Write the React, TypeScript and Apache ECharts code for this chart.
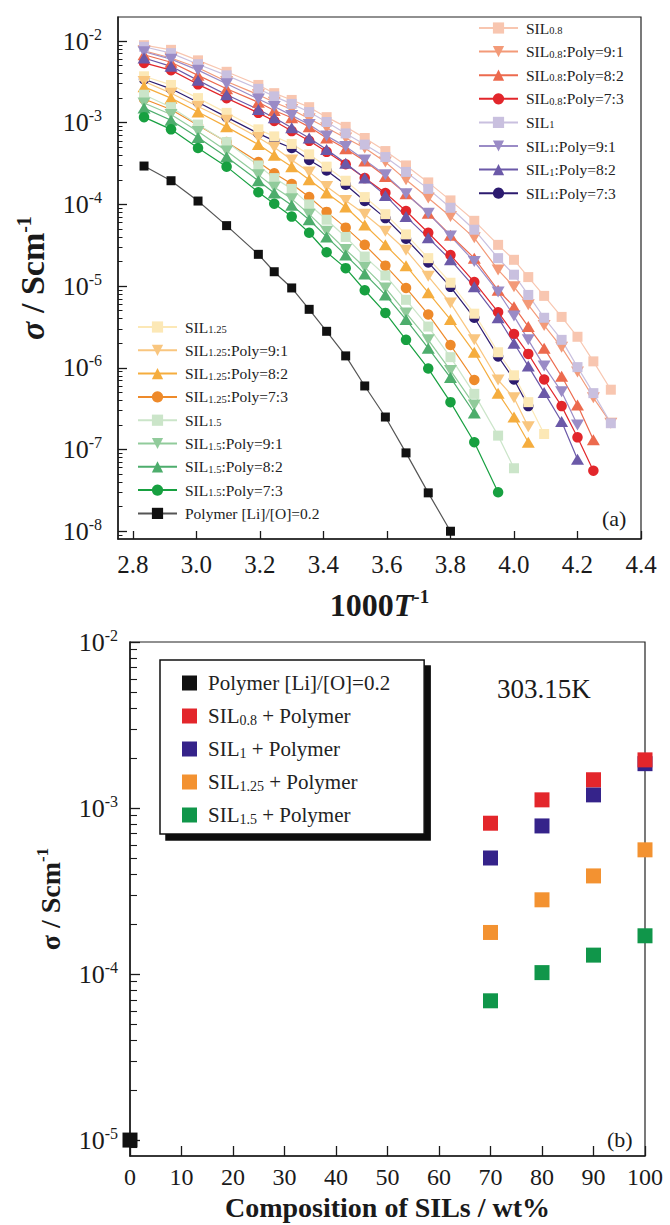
import React, { useEffect, useRef } from "react";
import * as echarts from "echarts";

const SERIF = "'Liberation Serif', 'Times New Roman', Times, serif";

// ---------- (a) conductivity vs 1000/T ----------
const INV_T = [2.835, 2.92, 3.005, 3.095, 3.195, 3.245, 3.3, 3.355, 3.41, 3.47, 3.53, 3.595, 3.66, 3.73, 3.8, 3.875, 3.95, 4.0, 4.045, 4.095, 4.15, 4.2, 4.25, 4.305];

const SIL08_NEAT = [8.9e-3, 7.8e-3, 5.8e-3, 4.2e-3, 2.9e-3, 2.3e-3, 1.9e-3, 1.55e-3, 1.17e-3, 8.9e-4, 6.5e-4, 4.5e-4, 3.0e-4, 1.86e-4, 1.12e-4, 6.3e-5, 3.2e-5, 2.1e-5, 1.29e-5, 7.6e-6, 4.2e-6, 2.4e-6, 1.2e-6, 5.4e-7];
const SIL08_91 = [7.6e-3, 6.2e-3, 4.7e-3, 3.2e-3, 2.2e-3, 1.78e-3, 1.45e-3, 1.12e-3, 8.7e-4, 6.5e-4, 4.9e-4, 3.3e-4, 2.0e-4, 1.2e-4, 7.1e-5, 3.9e-5, 1.58e-5, 9.8e-6, 5.9e-6, 3.3e-6, 1.78e-6, 8.9e-7, 4.3e-7, 2.1e-7];
const SIL08_82 = [6.8e-3, 5.5e-3, 3.8e-3, 2.6e-3, 1.78e-3, 1.41e-3, 1.15e-3, 8.9e-4, 6.5e-4, 4.8e-4, 3.4e-4, 2.2e-4, 1.35e-4, 7.8e-5, 4.2e-5, 2.2e-5, 8.9e-6, 5.6e-6, 3.2e-6, 1.74e-6, 7.9e-7, 3.5e-7, 1.32e-7];
const SIL08_73 = [5.4e-3, 4.4e-3, 2.95e-3, 2.0e-3, 1.32e-3, 1.05e-3, 7.9e-4, 6.0e-4, 4.4e-4, 3.1e-4, 2.1e-4, 1.38e-4, 8.3e-5, 4.5e-5, 2.4e-5, 1.12e-5, 4.8e-6, 2.6e-6, 1.48e-6, 7.2e-7, 3.4e-7, 1.41e-7, 5.5e-8];
const SIL1_NEAT = [8.5e-3, 7.1e-3, 5.2e-3, 3.8e-3, 2.6e-3, 2.1e-3, 1.7e-3, 1.35e-3, 1.02e-3, 7.4e-4, 5.4e-4, 3.8e-4, 2.5e-4, 1.55e-4, 9.1e-5, 4.9e-5, 2.2e-5, 1.38e-5, 7.8e-6, 4.1e-6, 2.2e-6, 1.02e-6, 4.9e-7, 2.1e-7];
const SIL1_91 = [7.4e-3, 6.0e-3, 4.4e-3, 3.0e-3, 1.95e-3, 1.58e-3, 1.23e-3, 9.5e-4, 6.9e-4, 5.1e-4, 3.5e-4, 2.3e-4, 1.35e-4, 7.8e-5, 4.1e-5, 2.0e-5, 8.5e-6, 4.3e-6, 2.2e-6, 1.05e-6, 5.1e-7, 2.0e-7];
const SIL1_82 = [6.2e-3, 4.9e-3, 3.3e-3, 2.2e-3, 1.45e-3, 1.15e-3, 8.7e-4, 6.5e-4, 4.7e-4, 3.2e-4, 2.1e-4, 1.29e-4, 7.1e-5, 3.9e-5, 2.1e-5, 9.8e-6, 4.1e-6, 2.0e-6, 1.05e-6, 5.0e-7, 2.2e-7, 7.6e-8];
const SIL1_73 = [3.4e-3, 2.6e-3, 1.78e-3, 1.17e-3, 7.4e-4, 6.0e-4, 4.9e-4, 3.5e-4, 2.6e-4, 1.74e-4, 1.1e-4, 6.8e-5, 3.8e-5, 1.95e-5, 9.8e-6, 4.1e-6, 1.38e-6, 7.2e-7, 3.4e-7];
const SIL125_NEAT = [3.7e-3, 2.9e-3, 2.0e-3, 1.32e-3, 8.3e-4, 6.8e-4, 5.5e-4, 4.1e-4, 2.9e-4, 1.95e-4, 1.23e-4, 7.6e-5, 4.3e-5, 2.2e-5, 1.1e-5, 4.6e-6, 1.55e-6, 8.1e-7, 3.8e-7, 1.55e-7];
const SIL125_91 = [3.2e-3, 2.3e-3, 1.58e-3, 1.07e-3, 6.6e-4, 5.0e-4, 3.5e-4, 2.5e-4, 1.66e-4, 1.12e-4, 7.6e-5, 4.7e-5, 2.75e-5, 1.32e-5, 6.2e-6, 2.2e-6, 7.1e-7, 4.3e-7, 1.9e-7];
const SIL125_82 = [2.75e-3, 2.0e-3, 1.35e-3, 8.9e-4, 5.4e-4, 4.0e-4, 2.9e-4, 2.0e-4, 1.38e-4, 9.3e-5, 5.6e-5, 3.2e-5, 1.78e-5, 8.3e-6, 3.9e-6, 1.55e-6, 4.9e-7, 2.5e-7, 1.23e-7];
const SIL125_73 = [1.95e-3, 1.45e-3, 9.3e-4, 5.8e-4, 3.3e-4, 2.4e-4, 1.78e-4, 1.23e-4, 8.1e-5, 5.2e-5, 3.2e-5, 1.78e-5, 9.5e-6, 4.5e-6, 1.9e-6, 7.1e-7];
const SIL15_NEAT = [2.2e-3, 1.55e-3, 9.5e-4, 5.8e-4, 3.0e-4, 2.1e-4, 1.55e-4, 1.0e-4, 6.5e-5, 4.0e-5, 2.3e-5, 1.35e-5, 6.8e-6, 3.2e-6, 1.35e-6, 4.8e-7, 1.48e-7, 5.9e-8];
const SIL15_91 = [1.74e-3, 1.26e-3, 7.8e-4, 4.5e-4, 2.3e-4, 1.62e-4, 1.17e-4, 7.6e-5, 4.7e-5, 2.8e-5, 1.7e-5, 9.5e-6, 4.7e-6, 2.2e-6, 9.3e-7, 3.5e-7];
const SIL15_82 = [1.51e-3, 1.07e-3, 6.6e-4, 3.8e-4, 1.95e-4, 1.38e-4, 9.8e-5, 6.5e-5, 4.0e-5, 2.4e-5, 1.41e-5, 7.8e-6, 3.9e-6, 1.74e-6, 7.6e-7, 2.8e-7];
const SIL15_73 = [1.17e-3, 8.3e-4, 4.9e-4, 2.9e-4, 1.41e-4, 1.02e-4, 7.1e-5, 4.5e-5, 2.6e-5, 1.66e-5, 8.9e-6, 4.7e-6, 2.2e-6, 9.8e-7, 3.8e-7, 1.23e-7, 3.0e-8];
const POLYMER = [2.95e-4, 1.95e-4, 1.1e-4, 5.5e-5, 2.45e-5, 1.5e-5, 9.5e-6, 5.2e-6, 2.8e-6, 1.4e-6, 6.0e-7, 2.5e-7, 9.1e-8, 2.95e-8, 1.0e-8];

const NAMES_A = [
  "SIL0.8", "SIL0.8:Poly=9:1", "SIL0.8:Poly=8:2", "SIL0.8:Poly=7:3",
  "SIL1", "SIL1:Poly=9:1", "SIL1:Poly=8:2", "SIL1:Poly=7:3",
  "SIL1.25", "SIL1.25:Poly=9:1", "SIL1.25:Poly=8:2", "SIL1.25:Poly=7:3",
  "SIL1.5", "SIL1.5:Poly=9:1", "SIL1.5:Poly=8:2", "SIL1.5:Poly=7:3",
  "Polymer [Li]/[O]=0.2",
];
const VALUES_A = [
  SIL08_NEAT, SIL08_91, SIL08_82, SIL08_73,
  SIL1_NEAT, SIL1_91, SIL1_82, SIL1_73,
  SIL125_NEAT, SIL125_91, SIL125_82, SIL125_73,
  SIL15_NEAT, SIL15_91, SIL15_82, SIL15_73,
  POLYMER,
];
const X_TICKS_A = [2.8, 3.0, 3.2, 3.4, 3.6, 3.8, 4.0, 4.2, 4.4];
const DECADES_A = [-8, -7, -6, -5, -4, -3, -2];

// ---------- (b) conductivity vs composition at 303.15 K ----------
const COMPOSITION = [70, 80, 90, 100];
const POLY_COMPOSITION = [0];
const B_POLYMER = [1.0e-5];
const B_SIL08 = [8.1e-4, 1.12e-3, 1.48e-3, 1.95e-3];
const B_SIL1 = [5.0e-4, 7.8e-4, 1.2e-3, 1.85e-3];
const B_SIL125 = [1.78e-4, 2.8e-4, 3.9e-4, 5.6e-4];
const B_SIL15 = [6.9e-5, 1.02e-4, 1.3e-4, 1.7e-4];
const NAMES_B = ["Polymer [Li]/[O]=0.2 ", "SIL0.8 + Polymer", "SIL1 + Polymer", "SIL1.25 + Polymer", "SIL1.5 + Polymer"];
const X_TICKS_B = [0, 10, 20, 30, 40, 50, 60, 70, 80, 90, 100];
const DECADES_B = [-5, -4, -3, -2];
const MINOR_STEPS = [2, 3, 4, 5, 6, 7, 8, 9];

// ---------- styles (kept apart from data) ----------
const COLORS_A = [
  "#F8C6B0", "#F39A78", "#EC6A4E", "#E2262B",
  "#C9C0DF", "#9A8BC6", "#6B59A8", "#2C1B6F",
  "#FCE8B6", "#F9C67F", "#F5AD3E", "#EE8A2A",
  "#CBE5C9", "#91CB9B", "#4DAD6C", "#17A040",
  "#111111",
];
const MARKERS_A = ["sq", "dn", "up", "ci", "sq", "dn", "up", "ci", "sq", "dn", "up", "ci", "sq", "dn", "up", "ci", "sq"];
const COLORS_B = ["#111111", "#E3262B", "#35238A", "#F39231", "#10964A"];

const A_X_MIN = 2.753, A_X_MAX = 4.4, A_Y_MIN = -8.095, A_Y_MAX = -1.706;
const B_Y_MIN = -5.096, B_Y_MAX = -2;

function minorTicks(lo: number, hi: number) {
  const out: number[] = [];
  for (let n = Math.floor(lo) - 1; n <= Math.ceil(hi); n++) {
    for (const k of MINOR_STEPS) {
      const v = n + Math.log10(k);
      if (v > lo && v < hi) out.push(v);
    }
  }
  return out;
}

const legendFmt = (name: string) => name.trim().replace(/^SIL([\d.]+)/, "SIL{s|$1}");

function buildOption() {
  const ink = "#1a1a1a";
  const supLabelRich = {
    b: { fontFamily: SERIF, fontSize: 26, color: ink, lineHeight: 30 },
    s: { fontFamily: SERIF, fontSize: 16, color: ink, lineHeight: 16, verticalAlign: "top" },
  };
  const labelFmt = (v: number) => `{b|10}{s|${Math.round(v)}}`;

  const symbolOf = (m: string) =>
    m === "sq" ? { symbol: "rect", symbolSize: 10, symbolRotate: 0 }
      : m === "ci" ? { symbol: "circle", symbolSize: 10.5, symbolRotate: 0 }
      : m === "up" ? { symbol: "triangle", symbolSize: [13, 11], symbolRotate: 0 }
      : { symbol: "triangle", symbolSize: [13, 11], symbolRotate: 180 };

  const seriesA = NAMES_A.map((name, i) => {
    const vals = VALUES_A[i];
    const s = symbolOf(MARKERS_A[i]);
    const isPoly = i === NAMES_A.length - 1;
    return {
      type: "line",
      name,
      xAxisIndex: 0,
      yAxisIndex: 0,
      data: vals.map((v, j) => [INV_T[j], Math.log10(v)]),
      symbol: s.symbol,
      symbolSize: isPoly ? 9 : s.symbolSize,
      symbolRotate: s.symbolRotate,
      showSymbol: true,
      clip: false,
      lineStyle: { color: isPoly ? "#555" : COLORS_A[i], width: 1.2 },
      itemStyle: { color: COLORS_A[i], opacity: 1 },
      z: 2,
    };
  });

  const bData = [
    POLY_COMPOSITION.map((c, j) => [c, Math.log10(B_POLYMER[j])]),
    COMPOSITION.map((c, j) => [c, Math.log10(B_SIL08[j])]),
    COMPOSITION.map((c, j) => [c, Math.log10(B_SIL1[j])]),
    COMPOSITION.map((c, j) => [c, Math.log10(B_SIL125[j])]),
    COMPOSITION.map((c, j) => [c, Math.log10(B_SIL15[j])]),
  ];
  const seriesB = NAMES_B.map((name, i) => ({
    type: "scatter",
    name,
    xAxisIndex: 1,
    yAxisIndex: 2,
    data: bData[i],
    symbol: "rect",
    symbolSize: 15,
    clip: false,
    itemStyle: { color: COLORS_B[i], opacity: 1 },
    z: i === 1 ? 4 : 3,
  }));

  const legendTextA = {
    fontFamily: SERIF,
    fontSize: 15.5,
    color: "#222",
    lineHeight: 16,
    padding: [0, 0, 0, 3],
    rich: { s: { fontFamily: SERIF, fontSize: 10.5, color: "#222", lineHeight: 12, verticalAlign: "bottom" } },
  };

  const axisNameRich = (size: number) => ({
    fontFamily: SERIF,
    fontSize: size,
    fontWeight: "bold",
    color: ink,
    lineHeight: size + 4,
    rich: {
      i: { fontFamily: SERIF, fontSize: size, fontWeight: "bold", fontStyle: "italic", color: ink, lineHeight: size + 4 },
      s: { fontFamily: SERIF, fontSize: Math.round(size * 0.6), fontWeight: "bold", color: ink, lineHeight: Math.round(size * 0.6), verticalAlign: "top" },
    },
  });

  return {
    animation: false,
    backgroundColor: "#ffffff",
    textStyle: { fontFamily: SERIF },
    grid: [
      { left: 118, right: 29, top: 17, bottom: 686, show: true, borderColor: "#222", borderWidth: 1.2, backgroundColor: "transparent", containLabel: false, outerBoundsMode: "none" },
      { left: 130, right: 25, top: 642, bottom: 69, show: true, borderColor: "#222", borderWidth: 1.2, backgroundColor: "transparent", containLabel: false, outerBoundsMode: "none" },
    ],
    xAxis: [
      {
        type: "value", gridIndex: 0, min: A_X_MIN, max: A_X_MAX,
        splitLine: { show: false },
        axisLine: { show: true, lineStyle: { color: ink, width: 1.5 } },
        axisTick: { show: true, inside: true, length: 8, customValues: X_TICKS_A, lineStyle: { color: ink, width: 1.3 } },
        axisLabel: { customValues: X_TICKS_A, formatter: (v: number) => v.toFixed(1), fontFamily: SERIF, fontSize: 25, color: ink, margin: 13 },
        name: "1000{i|T}{s|-1}", nameLocation: "middle", nameGap: 48,
        nameTextStyle: axisNameRich(32),
      },
      {
        type: "value", gridIndex: 1, min: 0, max: 100, interval: 10,
        splitLine: { show: false },
        axisLine: { show: true, lineStyle: { color: ink, width: 1.5 } },
        axisTick: { show: true, inside: true, length: 10, customValues: X_TICKS_B, lineStyle: { color: ink, width: 1.3 } },
        axisLabel: { customValues: X_TICKS_B, fontFamily: SERIF, fontSize: 24, color: ink, margin: 9 },
        name: "Composition of SILs / wt%", nameLocation: "middle", nameGap: 37,
        nameTextStyle: { fontFamily: SERIF, fontSize: 28, fontWeight: "bold", color: ink },
      },
    ],
    yAxis: [
      {
        type: "value", gridIndex: 0, position: "left", offset: 0, min: A_Y_MIN, max: A_Y_MAX,
        splitLine: { show: false },
        axisLine: { show: true, lineStyle: { color: ink, width: 1.5 } },
        axisTick: { show: true, inside: true, length: 9, customValues: DECADES_A, lineStyle: { color: ink, width: 1.3 } },
        axisLabel: { customValues: DECADES_A, formatter: labelFmt, fontFamily: SERIF, fontSize: 26, color: ink, margin: 16, rich: supLabelRich },
        name: "{i|σ} / Scm{s|-1}", nameLocation: "middle", nameGap: 64,
        nameTextStyle: axisNameRich(34),
      },
      {
        type: "value", gridIndex: 0, position: "left", offset: 0, min: A_Y_MIN, max: A_Y_MAX,
        splitLine: { show: false },
        axisLine: { show: false },
        axisTick: { show: true, inside: true, length: 4.5, customValues: minorTicks(A_Y_MIN, A_Y_MAX), lineStyle: { color: ink, width: 1 } },
        axisLabel: { show: false },
      },
      {
        type: "value", gridIndex: 1, position: "left", offset: 0, min: B_Y_MIN, max: B_Y_MAX,
        splitLine: { show: false },
        axisLine: { show: true, lineStyle: { color: ink, width: 1.5 } },
        axisTick: { show: true, inside: true, length: 10, customValues: DECADES_B, lineStyle: { color: ink, width: 1.3 } },
        axisLabel: { customValues: DECADES_B, formatter: labelFmt, fontFamily: SERIF, fontSize: 26, color: ink, margin: 12, rich: supLabelRich },
        name: "σ / Scm{s|-1}", nameLocation: "middle", nameGap: 64,
        nameTextStyle: axisNameRich(28),
      },
      {
        type: "value", gridIndex: 1, position: "left", offset: 0, min: B_Y_MIN, max: B_Y_MAX,
        splitLine: { show: false },
        axisLine: { show: false },
        axisTick: { show: true, inside: true, length: 7, customValues: minorTicks(B_Y_MIN, B_Y_MAX), lineStyle: { color: ink, width: 1.1 } },
        axisLabel: { show: false },
      },
    ],
    legend: [
      {
        data: NAMES_A.slice(0, 8), orient: "vertical", left: 478, top: 20,
        itemWidth: 39, itemHeight: 14, itemGap: 7.6, selectedMode: false, padding: 0,
        formatter: legendFmt, textStyle: legendTextA,
      },
      {
        data: NAMES_A.slice(8), orient: "vertical", left: 137, top: 319,
        itemWidth: 39, itemHeight: 14, itemGap: 7.3, selectedMode: false, padding: 0,
        formatter: legendFmt, textStyle: legendTextA,
      },
      {
        data: NAMES_B, orient: "vertical", left: 160, top: 660,
        itemWidth: 15, itemHeight: 15, itemGap: 11, selectedMode: false,
        padding: [12, 34, 8, 22],
        backgroundColor: "#ffffff", borderColor: "#111", borderWidth: 1.5,
        shadowColor: "#111", shadowOffsetX: 6, shadowOffsetY: 6, shadowBlur: 0.5,
        formatter: legendFmt,
        textStyle: {
          fontFamily: SERIF, fontSize: 21, color: "#222", lineHeight: 22,
          padding: [0, 0, 0, 6],
          rich: { s: { fontFamily: SERIF, fontSize: 14, color: "#222", lineHeight: 16, verticalAlign: "bottom" } },
        },
      },
    ],
    graphic: [
      { type: "text", x: 602, y: 518, style: { text: "(a)", fontFamily: SERIF, fontSize: 22, fill: ink, verticalAlign: "middle" } },
      { type: "text", x: 607, y: 1139, style: { text: "(b)", fontFamily: SERIF, fontSize: 22, fill: ink, verticalAlign: "middle" } },
      { type: "text", x: 497, y: 689, style: { text: "303.15K", fontFamily: SERIF, fontSize: 27, fill: ink, verticalAlign: "middle" } },
    ],
    series: [...seriesA, ...seriesB],
  };
}

export default function App() {
  const ref = useRef<HTMLDivElement>(null);
  useEffect(() => {
    document.body.style.margin = "0";
    if (!ref.current) return;
    const chart = echarts.init(ref.current, null, { renderer: "svg" });
    chart.setOption(buildOption() as any);
    return () => chart.dispose();
  }, []);
  return <div ref={ref} style={{ width: 670, height: 1225 }} />;
}
